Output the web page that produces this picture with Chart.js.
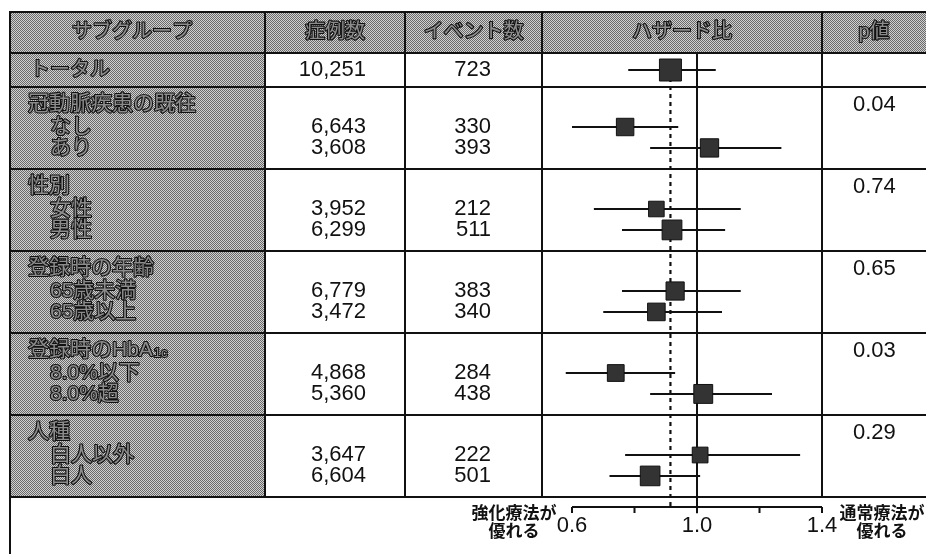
<!DOCTYPE html>
<html><head><meta charset="utf-8">
<script src="https://cdn.jsdelivr.net/npm/chart.js@4.4.0/dist/chart.umd.min.js"></script>
<style>html,body{margin:0;padding:0;background:#fff;} canvas{display:block;}</style>
</head><body>
<canvas id="c" width="926" height="554"></canvas>
<script>
// ---- data ----
const headers = ['サブグループ','症例数','イベント数','ハザード比','p値'];
const totalLabel = 'トータル';
const totalCases = '10,251';
const totalEvents = 723;
const totalHR = 0.915;
const totalLow = 0.78;
const totalHigh = 1.06;
const groupLabels = ['冠動脈疾患の既往','性別','登録時の年齢','登録時のHbA1c','人種'];
const pValues = ['0.04','0.74','0.65','0.03','0.29'];
const categories = ['なし','あり','女性','男性','65歳未満','65歳以上','8.0%以下','8.0%超','白人以外','白人'];
const cases = ['6,643','3,608','3,952','6,299','6,779','3,472','4,868','5,360','3,647','6,604'];
const events = [330,393,212,511,383,340,284,438,222,501];
const hazardRatios = [0.77,1.04,0.87,0.92,0.93,0.87,0.74,1.02,1.01,0.85];
const ciLower = [0.60,0.85,0.67,0.76,0.76,0.70,0.58,0.85,0.77,0.72];
const ciUpper = [0.94,1.27,1.14,1.09,1.14,1.08,0.93,1.24,1.33,1.01];
const xTicks = [0.6,0.8,1.0,1.2,1.4];
const xTickLabels = ['0.6','','1.0','','1.4'];
const leftNote = ['強化療法が','優れる'];
const rightNote = ['通常療法が','優れる'];

// ---- layout (row units) ----
const TOTAL_Y = 2.83;
const blockTop = b => 3.66 + 4 * b;
const labelY = b => blockTop(b) + 0.85;
const itemY = i => blockTop(Math.floor(i / 2)) + (i % 2 ? 2.97 : 1.95);
const AXIS_Y = 24.15;
const colX = [10, 265, 405, 542, 822, 926];
const gridYs = [0, 2.0, 3.66, 7.66, 11.66, 15.66, 19.66, 23.66];

const sideFor = ev => 8 + 0.52 * Math.sqrt(ev);
const radiusFor = ev => sideFor(ev) / Math.SQRT2;

// ---- datasets ----
const squarePts = [{x: totalHR, y: TOTAL_Y}].concat(hazardRatios.map((v, i) => ({x: v, y: itemY(i)})));
const squareRadii = [radiusFor(totalEvents)].concat(events.map(radiusFor));

const datasets = [{
  type: 'scatter', data: squarePts, pointStyle: 'rect', pointRadius: squareRadii,
  backgroundColor: '#333', borderColor: '#111', borderWidth: 1, order: 0, clip: false
}];
const ciRows = [{lo: totalLow, hi: totalHigh, y: TOTAL_Y}].concat(ciLower.map((lo, i) => ({lo, hi: ciUpper[i], y: itemY(i)})));
ciRows.forEach(r => datasets.push({
  type: 'line', data: [{x: r.lo, y: r.y}, {x: r.hi, y: r.y}],
  borderColor: '#111', borderWidth: 2, pointRadius: 0, order: 1
}));
datasets.push({
  type: 'line', data: [{x: totalHR, y: TOTAL_Y}, {x: totalHR, y: AXIS_Y}],
  borderColor: '#111', borderWidth: 2.2, borderDash: [4, 4], pointRadius: 0, order: 2
});
datasets.push({
  type: 'line', data: [{x: 1.0, y: 2.0}, {x: 1.0, y: AXIS_Y + 0.3}],
  borderColor: '#111', borderWidth: 2, pointRadius: 0, order: 2, clip: false
});

// ---- drawing helpers ----
let grayPattern = null;
function getPattern(ctx) {
  if (grayPattern) return grayPattern;
  const pc = document.createElement('canvas');
  pc.width = 2; pc.height = 2;
  const p = pc.getContext('2d');
  p.fillStyle = '#d0d0d0'; p.fillRect(0, 0, 2, 2);
  p.fillStyle = '#6a6a6a'; p.fillRect(0, 0, 1, 1); p.fillRect(1, 1, 1, 1);
  grayPattern = ctx.createPattern(pc, 'repeat');
  return grayPattern;
}
const JP = '"Noto Sans CJK JP"';
const NUM = '"Liberation Sans", Arial, ' + JP;

function emboss(ctx, text, x, y, align, size) {
  ctx.font = size + 'px ' + NUM;
  ctx.textAlign = align; ctx.textBaseline = 'middle';
  ctx.lineJoin = 'round';
  ctx.strokeStyle = '#111'; ctx.lineWidth = 2.2;
  ctx.strokeText(text, x, y);
  ctx.fillStyle = '#8c8c8c';
  ctx.fillText(text, x, y);
}
function embossLabel(ctx, text, x, y, size) {
  const idx = text.indexOf('1c');
  if (idx > 0 && text.indexOf('HbA') >= 0) {
    const main = text.slice(0, idx);
    emboss(ctx, main, x, y, 'left', size);
    ctx.font = size + 'px ' + NUM;
    const w = ctx.measureText(main).width;
    emboss(ctx, text.slice(idx), x + w + 1, y + 3, 'left', 13);
  } else {
    emboss(ctx, text, x, y, 'left', size);
  }
}
function plain(ctx, text, x, y, align, font) {
  ctx.font = font;
  ctx.textAlign = align; ctx.textBaseline = 'middle';
  ctx.fillStyle = '#111';
  ctx.fillText(text, x, y);
}

const tablePlugin = {
  id: 'table',
  beforeDatasetsDraw(chart) {
    const ctx = chart.ctx;
    const Y = v => chart.scales.y.getPixelForValue(v);
    ctx.save();
    ctx.fillStyle = '#fff';
    ctx.fillRect(0, 0, chart.width, chart.height);
    // gray cells
    ctx.fillStyle = getPattern(ctx);
    ctx.fillRect(colX[0], Y(0), colX[5] - colX[0], Y(2.0) - Y(0));
    ctx.fillRect(colX[0], Y(2.0), colX[1] - colX[0], Y(23.66) - Y(2.0));
    // header texts
    for (let c = 0; c < 5; c++) {
      const cx = c === 0 ? 132 : (colX[c] + colX[c + 1]) / 2;
      emboss(ctx, headers[c], cx, Y(1.0), 'center', 20);
    }
    // total row
    embossLabel(ctx, totalLabel, 30, Y(TOTAL_Y), 20);
    plain(ctx, totalCases, 366, Y(TOTAL_Y), 'right', '22px ' + NUM);
    plain(ctx, String(totalEvents), 491, Y(TOTAL_Y), 'right', '22px ' + NUM);
    // groups
    groupLabels.forEach((g, b) => {
      embossLabel(ctx, g, 28, Y(labelY(b)), 21);
      plain(ctx, pValues[b], 853, Y(labelY(b)), 'left', '22px ' + NUM);
    });
    categories.forEach((c, i) => {
      emboss(ctx, c, 50, Y(itemY(i)), 'left', 21);
      plain(ctx, cases[i], 366, Y(itemY(i)), 'right', '22px ' + NUM);
      plain(ctx, String(events[i]), 491, Y(itemY(i)), 'right', '22px ' + NUM);
    });
    // grid lines
    ctx.strokeStyle = '#111'; ctx.lineWidth = 2;
    ctx.beginPath();
    gridYs.forEach(v => { ctx.moveTo(colX[0], Y(v)); ctx.lineTo(colX[5], Y(v)); });
    for (let c = 1; c < 5; c++) { ctx.moveTo(colX[c], Y(0)); ctx.lineTo(colX[c], Y(23.66)); }
    ctx.moveTo(colX[0], Y(0) - 1); ctx.lineTo(colX[0], chart.height);
    ctx.stroke();
    ctx.restore();
  },
  afterDatasetsDraw(chart) {
    const ctx = chart.ctx;
    const X = v => chart.scales.x.getPixelForValue(v);
    const Y = v => chart.scales.y.getPixelForValue(v);
    ctx.save();
    const ay = Y(AXIS_Y);
    ctx.strokeStyle = '#111'; ctx.lineWidth = 2;
    ctx.beginPath();
    ctx.moveTo(X(xTicks[0]), ay); ctx.lineTo(X(xTicks[xTicks.length - 1]), ay);
    xTicks.forEach(t => { ctx.moveTo(X(t), ay); ctx.lineTo(X(t), ay + 6); });
    ctx.stroke();
    xTicks.forEach((t, i) => {
      if (xTickLabels[i]) plain(ctx, xTickLabels[i], X(t), ay + 19, 'center', '22px ' + NUM);
    });
    const nf = 'bold 17px ' + JP;
    plain(ctx, leftNote[0], 514, ay + 5, 'center', nf);
    plain(ctx, leftNote[1], 514, ay + 23, 'center', nf);
    plain(ctx, rightNote[0], 882, ay + 5, 'center', nf);
    plain(ctx, rightNote[1], 882, ay + 23, 'center', nf);
    ctx.restore();
  }
};

new Chart(document.getElementById('c'), {
  data: { datasets },
  options: {
    responsive: false, animation: false, devicePixelRatio: 1,
    layout: { autoPadding: false, padding: { left: 542, right: 104, top: 12, bottom: 1 } },
    plugins: { legend: { display: false }, tooltip: { enabled: false } },
    scales: {
      x: { type: 'linear', min: 0.504, max: 1.4, display: false },
      y: { type: 'linear', min: 0, max: 26.39, reverse: true, display: false }
    }
  },
  plugins: [tablePlugin]
});
</script>
</body></html>
